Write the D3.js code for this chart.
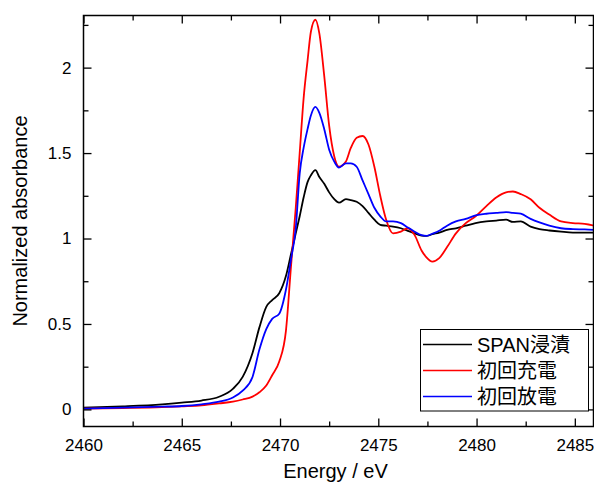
<!DOCTYPE html>
<html>
<head>
<meta charset="utf-8">
<script src="https://cdn.jsdelivr.net/npm/d3@7"></script>
<style>
  html, body { margin: 0; padding: 0; background: #fff; }
  svg { display: block; }
  text { font-family: Arial, "Liberation Sans", "Noto Sans CJK JP", sans-serif; fill: #000; }
</style>
</head>
<body>
<svg id="chart" width="594" height="483"></svg>
<script>
// ---- data ----
const energy = [2460, 2462, 2464, 2465, 2466, 2466.9, 2467.6, 2468.1, 2468.6, 2468.95, 2469.3, 2469.6, 2469.96, 2470.3, 2470.56, 2470.8, 2471.0, 2471.2, 2471.4, 2471.57, 2471.8, 2472.0, 2472.25, 2472.5, 2472.76, 2473.0, 2473.35, 2473.6, 2473.9, 2474.2, 2474.5, 2474.8, 2475.1, 2475.4, 2475.75, 2476.15, 2476.5, 2476.85, 2477.2, 2477.45, 2477.75, 2478.1, 2478.5, 2478.95, 2479.45, 2479.95, 2480.5, 2481.0, 2481.5, 2481.85, 2482.25, 2482.75, 2483.2, 2483.7, 2484.3, 2484.9, 2485.5, 2486];
const spanSoaked = [0.01, 0.018, 0.03, 0.04, 0.052, 0.074, 0.12, 0.19, 0.33, 0.48, 0.60, 0.64, 0.68, 0.78, 0.91, 1.03, 1.13, 1.24, 1.33, 1.37, 1.40, 1.36, 1.32, 1.27, 1.23, 1.21, 1.23, 1.225, 1.215, 1.19, 1.15, 1.11, 1.08, 1.075, 1.07, 1.06, 1.045, 1.03, 1.017, 1.015, 1.025, 1.035, 1.05, 1.06, 1.075, 1.09, 1.10, 1.105, 1.11, 1.097, 1.10, 1.07, 1.055, 1.047, 1.04, 1.035, 1.035, 1.035];
const firstCharge = [0.005, 0.008, 0.013, 0.018, 0.024, 0.035, 0.045, 0.058, 0.075, 0.10, 0.14, 0.20, 0.28, 0.46, 0.84, 1.18, 1.50, 1.82, 2.04, 2.21, 2.28, 2.20, 1.95, 1.66, 1.48, 1.42, 1.45, 1.53, 1.59, 1.60, 1.55, 1.42, 1.25, 1.11, 1.03, 1.04, 1.06, 1.02, 0.93, 0.89, 0.865, 0.885, 0.95, 1.03, 1.09, 1.13, 1.19, 1.24, 1.27, 1.275, 1.26, 1.23, 1.18, 1.14, 1.10, 1.09, 1.086, 1.075];
const firstDischarge = [0.005, 0.01, 0.016, 0.02, 0.03, 0.045, 0.07, 0.11, 0.19, 0.35, 0.47, 0.53, 0.56, 0.70, 0.88, 1.06, 1.38, 1.53, 1.64, 1.72, 1.77, 1.735, 1.64, 1.52, 1.45, 1.415, 1.44, 1.44, 1.42, 1.34, 1.26, 1.18, 1.13, 1.10, 1.10, 1.09, 1.065, 1.04, 1.02, 1.016, 1.028, 1.045, 1.075, 1.10, 1.115, 1.135, 1.145, 1.15, 1.155, 1.15, 1.145, 1.115, 1.094, 1.075, 1.06, 1.055, 1.053, 1.05];
const seriesNames = ["SPAN浸漬", "初回充電", "初回放電"];
const seriesColors = ["#000000", "#ff0000", "#0000ff"];
const xTicks = [2460, 2465, 2470, 2475, 2480, 2485];
const xMinorTicks = [2462.5, 2467.5, 2472.5, 2477.5, 2482.5];
const yTicks = [0, 0.5, 1, 1.5, 2];
const yMinorTicks = [0.25, 0.75, 1.25, 1.75, 2.25];
const xTitle = "Energy / eV";
const yTitle = "Normalized absorbance";

// ---- layout ----
const L = 83.5, R = 593.5, T = 15.5, B = 426.5;
const svg = d3.select("#chart");
const x = d3.scaleLinear().domain([2460, 2485.95]).range([L, R]);
const y = d3.scaleLinear().domain([-0.1, 2.305]).range([B, T]);

const series = [spanSoaked, firstCharge, firstDischarge];

const plot = svg.append("g");
plot.append("clipPath").attr("id", "clip").append("rect")
  .attr("x", L).attr("y", T).attr("width", R - L).attr("height", B - T);

const line = d3.line().x(d => x(d[0])).y(d => y(d[1])).curve(d3.curveMonotoneX);
[0, 1, 2].forEach(i => {
  plot.append("path")
    .attr("clip-path", "url(#clip)")
    .attr("d", line(energy.map((e, k) => [e, series[i][k]])))
    .attr("fill", "none")
    .attr("stroke", seriesColors[i])
    .attr("stroke-width", 1.8)
    .attr("stroke-linejoin", "round");
});

// ---- axes ----
const major = 8, minor = 5;
function styleAxis(g) {
  g.select(".domain").remove();
  g.selectAll(".tick line").attr("stroke", "#000").attr("stroke-width", 1.3);
  g.selectAll(".tick text").style("font-size", "17px");
}
const gB = svg.append("g").attr("transform", `translate(0,${B})`)
  .call(d3.axisBottom(x).tickValues(xTicks).tickFormat(d3.format("d")).tickSizeInner(-major).tickPadding(12));
styleAxis(gB);
svg.append("g").attr("transform", `translate(0,${B})`)
  .call(d3.axisBottom(x).tickValues(xMinorTicks).tickFormat("").tickSizeInner(-minor)).call(styleAxis);
svg.append("g").attr("transform", `translate(0,${T})`)
  .call(d3.axisTop(x).tickValues(xTicks).tickFormat("").tickSizeInner(-major)).call(styleAxis);
svg.append("g").attr("transform", `translate(0,${T})`)
  .call(d3.axisTop(x).tickValues(xMinorTicks).tickFormat("").tickSizeInner(-minor)).call(styleAxis);
const gL = svg.append("g").attr("transform", `translate(${L},0)`)
  .call(d3.axisLeft(y).tickValues(yTicks).tickFormat(d => d === 0 ? "0" : d3.format("")(d)).tickSizeInner(-major).tickPadding(12));
styleAxis(gL);
svg.append("g").attr("transform", `translate(${L},0)`)
  .call(d3.axisLeft(y).tickValues(yMinorTicks).tickFormat("").tickSizeInner(-minor)).call(styleAxis);
svg.append("g").attr("transform", `translate(${R},0)`)
  .call(d3.axisRight(y).tickValues(yTicks).tickFormat("").tickSizeInner(-major)).call(styleAxis);
svg.append("g").attr("transform", `translate(${R},0)`)
  .call(d3.axisRight(y).tickValues(yMinorTicks).tickFormat("").tickSizeInner(-minor)).call(styleAxis);

svg.append("rect").attr("x", L).attr("y", T).attr("width", R - L).attr("height", B - T)
  .attr("fill", "none").attr("stroke", "#000").attr("stroke-width", 1.5);

svg.append("text").attr("x", (L + R) / 2 - 3).attr("y", 478)
  .attr("text-anchor", "middle").style("font-size", "20px").text(xTitle);
svg.append("text").attr("transform", `translate(27,${(T + B) / 2}) rotate(-90)`)
  .attr("text-anchor", "middle").style("font-size", "20px").text(yTitle);

const lg = svg.append("g");
lg.append("rect").attr("x", 420.5).attr("y", 329.5).attr("width", 168).attr("height", 81.5)
  .attr("fill", "#fff").attr("stroke", "#000").attr("stroke-width", 1);
seriesNames.forEach((name, i) => {
  const yy = 344.5 + i * 26;
  lg.append("line").attr("x1", 423).attr("x2", 472).attr("y1", yy).attr("y2", yy)
    .attr("stroke", seriesColors[i]).attr("stroke-width", 1.6);
  lg.append("text").attr("x", 477).attr("y", yy + 7).style("font-size", "20px").text(name);
});
</script>
</body>
</html>
